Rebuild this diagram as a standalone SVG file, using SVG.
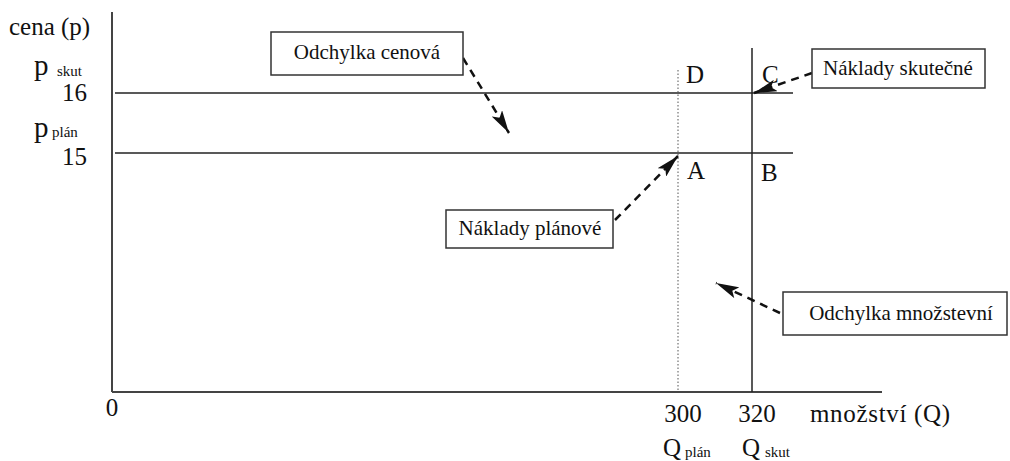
<svg xmlns="http://www.w3.org/2000/svg" width="1010" height="461" viewBox="0 0 1010 461">
  <style>
    text { font-family: "Liberation Serif", "Times New Roman", serif; fill: #111; }
    .lbl { font-size: 25px; }
    .sub { font-size: 15px; }
    .box { fill: #fff; stroke: #333; stroke-width: 1.5; }
    .bt { font-family: "Liberation Serif", "Times New Roman", serif; font-size: 21px; text-anchor: middle; }
    .axis { stroke: #444; stroke-width: 2; fill: none; }
    .line { stroke: #222; stroke-width: 1.5; fill: none; }
    .dot { stroke: #555; stroke-width: 1; stroke-dasharray: 1.5 2; fill: none; }
    .arr { stroke: #111; stroke-width: 2.5; stroke-dasharray: 8 6; fill: none; marker-end: url(#ah); }
  </style>
  <defs>
    <marker id="ah" viewBox="0 0 23 12" refX="23" refY="6" markerWidth="23" markerHeight="12" markerUnits="userSpaceOnUse" orient="auto">
      <path d="M0,0 L23,6 L0,12 L5,6 Z" fill="#111"/>
    </marker>
  </defs>
  <rect width="1010" height="461" fill="#fff"/>

  <g id="axes">
    <line class="axis" x1="112" y1="12" x2="112" y2="392"/>
    <line class="axis" x1="112" y1="392" x2="882" y2="392"/>
    <line class="line" x1="115" y1="93" x2="793" y2="93"/>
    <line class="line" x1="115" y1="153" x2="793" y2="153"/>
    <line class="dot" x1="678" y1="70" x2="678" y2="392"/>
    <line class="line" x1="752" y1="48" x2="752" y2="392"/>
  </g>

  <g id="axis-labels">
    <text class="lbl" x="9" y="35">cena (p)</text>
    <text x="34" y="75" style="font-size:29px">p</text>
    <text class="sub" x="57" y="76">skut</text>
    <text class="lbl" x="87" y="101" text-anchor="end">16</text>
    <text x="34" y="137" style="font-size:29px">p</text>
    <text class="sub" x="52" y="137">plán</text>
    <text class="lbl" x="87" y="165" text-anchor="end">15</text>
    <text class="lbl" x="112" y="416" text-anchor="middle">0</text>
    <text class="lbl" x="683" y="422" text-anchor="middle">300</text>
    <text class="lbl" x="757" y="422" text-anchor="middle">320</text>
    <text class="lbl" x="810" y="422" textLength="140">množství (Q)</text>
    <text class="lbl" x="663" y="456">Q</text>
    <text class="sub" x="685" y="457">plán</text>
    <text class="lbl" x="742" y="456">Q</text>
    <text class="sub" x="765" y="457">skut</text>
  </g>

  <g id="points">
    <text class="lbl" x="686" y="83">D</text>
    <text class="lbl" x="762" y="83">C</text>
    <text class="lbl" x="687" y="179">A</text>
    <text class="lbl" x="761" y="181">B</text>
  </g>

  <g id="connectors">
    <line class="arr" x1="463" y1="58" x2="509" y2="133"/>
    <line class="arr" x1="812" y1="73" x2="754" y2="93"/>
    <line class="arr" x1="615" y1="220" x2="678" y2="156"/>
    <line class="arr" x1="780" y1="313" x2="716" y2="283"/>
  </g>

  <g id="node-odchylka-cenova">
    <rect class="box" x="271" y="32" width="192" height="43"/>
    <text class="bt" x="367" y="59">Odchylka cenová</text>
  </g>
  <g id="node-naklady-skutecne">
    <rect class="box" x="812" y="49" width="173" height="39"/>
    <text class="bt" x="898" y="75">Náklady skutečné</text>
  </g>
  <g id="node-naklady-planove">
    <rect class="box" x="446" y="210" width="167" height="38"/>
    <text class="bt" x="530" y="235">Náklady plánové</text>
  </g>
  <g id="node-odchylka-mnozstevni">
    <rect class="box" x="783" y="292" width="224" height="43"/>
    <text class="bt" x="901" y="320">Odchylka množstevní</text>
  </g>
</svg>
